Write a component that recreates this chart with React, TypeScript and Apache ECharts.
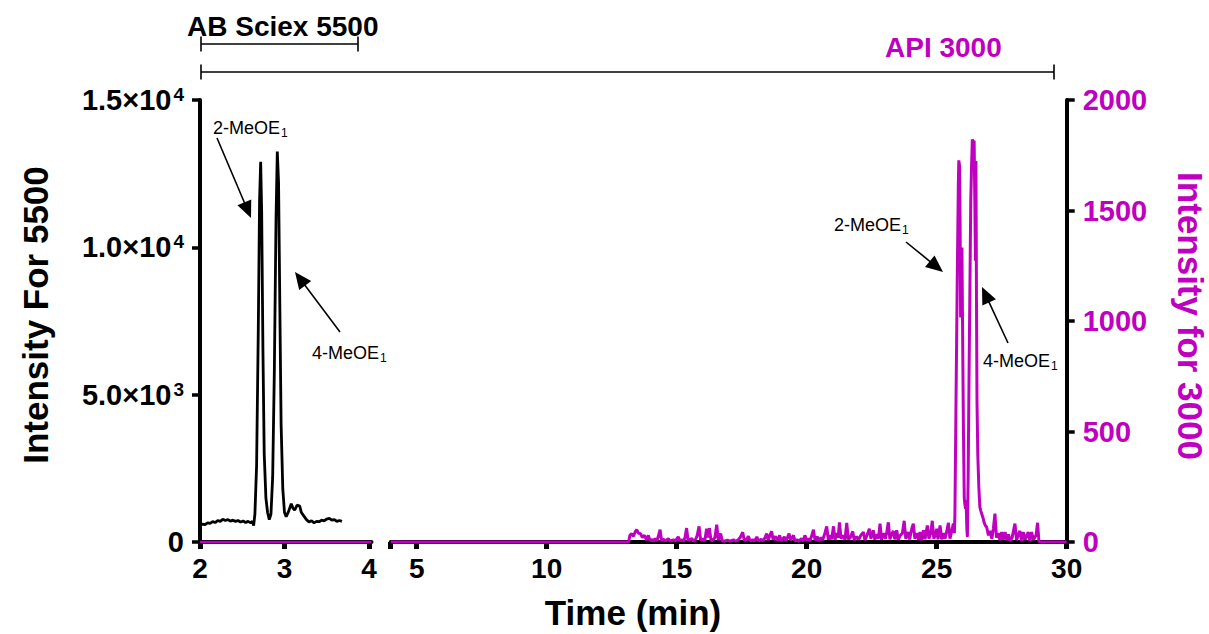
import React, { useEffect, useRef } from 'react';
import * as echarts from 'echarts';

const FONT = '"Liberation Sans", Arial, Helvetica, sans-serif';
const MAGENTA = '#C000C0';

// ---- tick values / labels ----
const X_LEFT_TICKS = [2, 3, 4];
const X_RIGHT_TICKS = [4, 5, 10, 15, 20, 25, 30];
const X_RIGHT_LABELS = [5, 10, 15, 20, 25, 30];
const Y_LEFT_TICKS = [0, 5000, 10000, 15000];
const Y_LEFT_MANTISSA = ['0', '5.0×10', '1.0×10', '1.5×10'];
const Y_LEFT_EXP = ['', '3', '4', '4'];

// ---- AB Sciex 5500 trace (time min, intensity) ----
const SCIEX_5500: [number, number][] = [
  [2.0, 560], [2.03, 610], [2.06, 590], [2.09, 650], [2.12, 630], [2.15, 690], [2.18, 660],
  [2.21, 730], [2.24, 700], [2.27, 770], [2.3, 730], [2.33, 760], [2.36, 710], [2.39, 740],
  [2.42, 700], [2.45, 730], [2.48, 680], [2.51, 710], [2.54, 660], [2.57, 700], [2.6, 650],
  [2.62, 700], [2.635, 560], [2.65, 950], [2.67, 2600], [2.69, 7200], [2.705, 11600],
  [2.718, 12900], [2.73, 11200], [2.745, 6500], [2.76, 3000], [2.78, 1500], [2.8, 1000],
  [2.82, 760], [2.84, 950], [2.86, 2200], [2.88, 5800], [2.9, 11000], [2.915, 13250],
  [2.93, 12200], [2.945, 8000], [2.96, 4000], [2.98, 1800], [3.0, 1000], [3.02, 860],
  [3.05, 1050], [3.08, 1300], [3.1, 1150], [3.12, 1080], [3.15, 1250], [3.18, 1220],
  [3.2, 1000], [3.23, 880], [3.26, 760], [3.29, 680], [3.32, 720], [3.35, 650], [3.38, 700],
  [3.41, 690], [3.44, 740], [3.47, 720], [3.5, 780], [3.53, 800], [3.56, 740], [3.59, 760],
  [3.62, 700], [3.65, 730], [3.68, 700],
];

// ---- API 3000 trace on the 2-4 min segment ----
const API3000_LEFT: [number, number][] = [[2, 0], [4.03, 0]];

// ---- API 3000 trace (time min, intensity) ----
const API3000: [number, number][] = [
  [4.0, 0], [13.15, 0], [13.2, 30], [13.27, 38], [13.33, 25], [13.4, 45], [13.46, 56],
  [13.53, 40], [13.61, 38], [13.68, 20], [13.76, 30], [13.84, 8], [13.91, 30], [13.98, 5],
  [14.05, 12], [14.1, 4], [14.17, 15], [14.24, 5], [14.3, 28], [14.36, 56], [14.42, 6],
  [14.5, 12], [14.57, 5], [14.68, 15], [14.75, 4], [14.87, 10], [14.95, 5], [15.06, 23],
  [15.12, 6], [15.2, 10], [15.26, 4], [15.32, 20], [15.38, 63], [15.44, 5], [15.5, 12],
  [15.58, 15], [15.64, 4], [15.72, 10], [15.79, 30], [15.86, 71], [15.92, 8], [16.0, 15],
  [16.08, 5], [16.15, 60], [16.2, 20], [16.26, 63], [16.32, 5], [16.4, 10], [16.47, 20],
  [16.54, 78], [16.6, 8], [16.69, 38], [16.75, 5], [16.85, 5], [16.95, 8], [17.05, 4],
  [17.18, 10], [17.25, 4], [17.35, 8], [17.44, 20], [17.54, 44], [17.6, 6], [17.68, 12],
  [17.76, 26], [17.82, 5], [17.92, 10], [18.0, 5], [18.08, 23], [18.15, 5], [18.25, 12],
  [18.32, 5], [18.4, 20], [18.46, 38], [18.52, 8], [18.6, 35], [18.65, 48], [18.71, 10],
  [18.8, 25], [18.88, 6], [18.96, 30], [19.02, 5], [19.14, 23], [19.2, 6], [19.26, 20],
  [19.32, 38], [19.38, 8], [19.49, 30], [19.55, 5], [19.62, 10], [19.7, 4], [19.8, 15],
  [19.87, 6], [19.93, 30], [20.0, 8], [20.06, 15], [20.12, 5], [20.2, 30], [20.26, 56],
  [20.32, 8], [20.4, 25], [20.46, 5], [20.55, 20], [20.61, 8], [20.7, 40], [20.77, 71],
  [20.83, 10], [20.9, 30], [20.96, 12], [21.03, 71], [21.09, 10], [21.16, 40], [21.21, 20],
  [21.26, 89], [21.32, 15], [21.4, 30], [21.47, 10], [21.54, 86], [21.6, 12], [21.68, 20],
  [21.77, 48], [21.83, 8], [21.92, 25], [22.0, 10], [22.08, 30], [22.18, 45], [22.24, 8],
  [22.32, 30], [22.41, 60], [22.47, 15], [22.56, 53], [22.62, 10], [22.7, 35], [22.76, 15],
  [22.82, 83], [22.88, 10], [22.96, 40], [23.03, 15], [23.08, 45], [23.14, 89], [23.2, 12],
  [23.27, 35], [23.33, 50], [23.39, 12], [23.46, 53], [23.52, 10], [23.6, 30], [23.68, 40],
  [23.75, 96], [23.81, 15], [23.9, 45], [23.96, 12], [24.04, 60], [24.1, 83], [24.16, 15],
  [24.24, 40], [24.3, 10], [24.36, 45], [24.42, 8], [24.49, 53], [24.55, 12], [24.64, 75],
  [24.7, 15], [24.77, 40], [24.83, 96], [24.89, 15], [24.96, 35], [25.0, 60], [25.05, 12],
  [25.13, 75], [25.19, 12], [25.26, 40], [25.32, 15], [25.39, 50], [25.45, 87], [25.51, 15],
  [25.58, 50], [25.64, 83], [25.68, 40], [25.7, 120], [25.74, 600], [25.79, 1182],
  [25.83, 1600], [25.85, 1727], [25.88, 1700], [25.9, 1450], [25.92, 1016], [25.95, 1300],
  [25.97, 1333], [26.0, 900], [26.03, 490], [26.06, 200], [26.08, 174], [26.11, 150],
  [26.13, 189], [26.16, 60], [26.18, 23], [26.21, 300], [26.24, 700], [26.26, 942],
  [26.29, 1300], [26.31, 1543], [26.34, 1700], [26.37, 1822], [26.4, 1810], [26.44, 1815],
  [26.47, 1500], [26.49, 1273], [26.51, 1724], [26.53, 1100], [26.55, 640], [26.58, 400],
  [26.62, 250], [26.66, 158], [26.7, 140], [26.73, 128], [26.78, 110], [26.82, 90],
  [26.87, 75], [26.92, 68], [26.99, 30], [27.05, 50], [27.12, 15], [27.18, 60], [27.24, 128],
  [27.3, 20], [27.37, 40], [27.43, 8], [27.5, 45], [27.56, 10], [27.63, 45], [27.7, 8],
  [27.76, 35], [27.82, 5], [27.9, 20], [28.01, 83], [28.07, 8], [28.14, 35], [28.2, 50],
  [28.26, 5], [28.33, 45], [28.4, 10], [28.52, 45], [28.58, 6], [28.65, 45], [28.72, 10],
  [28.82, 30], [28.88, 87], [28.93, 5], [28.96, 0], [30.0, 0],
];

function arrow(x1: number, y1: number, x2: number, y2: number) {
  const dx = x2 - x1;
  const dy = y2 - y1;
  const L = Math.hypot(dx, dy);
  const ux = dx / L;
  const uy = dy / L;
  const hl = 17;
  const hw = 7.5;
  const bx = x2 - ux * hl;
  const by = y2 - uy * hl;
  return [
    {
      type: 'line',
      shape: { x1, y1, x2: bx + ux * 2, y2: by + uy * 2 },
      style: { stroke: '#000', lineWidth: 1.6 },
      silent: true,
    },
    {
      type: 'polygon',
      shape: {
        points: [
          [x2, y2],
          [bx - uy * hw, by + ux * hw],
          [bx + uy * hw, by - ux * hw],
        ],
      },
      style: { fill: '#000' },
      silent: true,
    },
  ];
}

function bracket(x1: number, x2: number, y: number, half: number) {
  const st = { stroke: '#000', lineWidth: 1.6 };
  return [
    { type: 'line', shape: { x1, y1: y, x2, y2: y }, style: st, silent: true },
    { type: 'line', shape: { x1, y1: y - half, x2: x1, y2: y + half }, style: st, silent: true },
    { type: 'line', shape: { x1: x2, y1: y - half, x2, y2: y + half }, style: st, silent: true },
  ];
}

function label(x: number, y: number, main: string, sub: string) {
  return {
    type: 'text',
    x,
    y,
    silent: true,
    style: {
      text: `{m|${main}}{s|${sub}}`,
      align: 'left',
      verticalAlign: 'middle',
      rich: {
        m: { fontSize: 18, fontFamily: FONT, fill: '#000', color: '#000', lineHeight: 22 },
        s: {
          fontSize: 12,
          fontFamily: FONT,
          fill: '#000',
          color: '#000',
          lineHeight: 12,
          verticalAlign: 'bottom',
          padding: [0, 0, 0, 1],
        },
      },
    },
  };
}

export default function App() {
  const ref = useRef<HTMLDivElement>(null);

  useEffect(() => {
    if (!ref.current) return;
    const chart = echarts.init(ref.current, undefined, { renderer: 'svg' });

    const xAxisCommon = {
      type: 'value',
      axisLine: { show: true, lineStyle: { color: '#000', width: 4 } },
      axisTick: { show: true, inside: false, length: 7, lineStyle: { color: '#000', width: 5 } },
      axisLabel: {
        color: '#000',
        fontSize: 28,
        fontWeight: 'bold',
        fontFamily: FONT,
        margin: 12,
        formatter: (v: number) => String(v),
      },
      splitLine: { show: false },
    };

    const option: any = {
      animation: false,
      backgroundColor: '#fff',
      grid: [
        { left: 200, top: 100, width: 171.5, height: 442, containLabel: false },
        { left: 390.7, top: 100, width: 676, height: 442, containLabel: false },
      ],
      xAxis: [
        {
          ...xAxisCommon,
          gridIndex: 0,
          min: 2,
          max: 4.03,
          axisTick: { ...xAxisCommon.axisTick, customValues: X_LEFT_TICKS },
          axisLabel: { ...xAxisCommon.axisLabel, customValues: X_LEFT_TICKS },
        },
        {
          ...xAxisCommon,
          gridIndex: 1,
          min: 4,
          max: 30,
          axisTick: { ...xAxisCommon.axisTick, customValues: X_RIGHT_TICKS },
          axisLabel: { ...xAxisCommon.axisLabel, customValues: X_RIGHT_LABELS },
        },
      ],
      yAxis: [
        {
          type: 'value',
          gridIndex: 0,
          position: 'left',
          min: 0,
          max: 15000,
          interval: 5000,
          axisLine: { show: true, lineStyle: { color: '#000', width: 4 } },
          axisTick: { show: true, length: 8, lineStyle: { color: '#000', width: 3.5 } },
          splitLine: { show: false },
          axisLabel: {
            margin: 16,
            formatter: (v: number) => {
              const i = Y_LEFT_TICKS.indexOf(v);
              if (i < 0) return '';
              return Y_LEFT_EXP[i]
                ? `{m|${Y_LEFT_MANTISSA[i]}}{s|${Y_LEFT_EXP[i]}}`
                : `{m|${Y_LEFT_MANTISSA[i]}}`;
            },
            rich: {
              m: {
                fontSize: 29,
                fontWeight: 'bold',
                fontFamily: FONT,
                color: '#000',
                lineHeight: 30,
              },
              s: {
                fontSize: 19,
                fontWeight: 'bold',
                fontFamily: FONT,
                color: '#000',
                lineHeight: 19,
                verticalAlign: 'top',
                padding: [0, 0, 0, 2],
              },
            },
          },
        },
        {
          type: 'value',
          gridIndex: 1,
          position: 'right',
          min: 0,
          max: 2000,
          interval: 500,
          axisLine: { show: true, lineStyle: { color: '#000', width: 4 } },
          axisTick: { show: true, length: 8, lineStyle: { color: '#000', width: 3.5 } },
          splitLine: { show: false },
          axisLabel: {
            margin: 16,
            color: MAGENTA,
            fontSize: 29,
            fontWeight: 'bold',
            fontFamily: FONT,
            formatter: (v: number) => String(v),
          },
        },
      ],
      series: [
        {
          name: 'AB Sciex 5500',
          type: 'line',
          xAxisIndex: 0,
          yAxisIndex: 0,
          data: SCIEX_5500,
          showSymbol: false,
          symbol: 'none',
          lineStyle: { color: '#000', width: 2.8 },
          itemStyle: { color: '#000' },
          silent: true,
          z: 3,
        },
        {
          name: 'API 3000 (2-4 min)',
          type: 'line',
          xAxisIndex: 0,
          yAxisIndex: 0,
          data: API3000_LEFT,
          showSymbol: false,
          symbol: 'none',
          lineStyle: { color: MAGENTA, width: 2.5 },
          itemStyle: { color: MAGENTA },
          silent: true,
          z: 4,
        },
        {
          name: 'API 3000',
          type: 'line',
          xAxisIndex: 1,
          yAxisIndex: 1,
          data: API3000,
          showSymbol: false,
          symbol: 'none',
          lineStyle: { color: MAGENTA, width: 3 },
          itemStyle: { color: MAGENTA },
          silent: true,
          z: 4,
        },
      ],
      graphic: [
        ...bracket(201, 358, 44, 7.5),
        ...bracket(201, 1054, 72, 7.5),
        {
          type: 'text',
          x: 187,
          y: 26,
          silent: true,
          style: {
            text: 'AB Sciex 5500',
            fill: '#000',
            fontSize: 28,
            fontWeight: 'bold',
            fontFamily: FONT,
            align: 'left',
            verticalAlign: 'middle',
          },
        },
        {
          type: 'text',
          x: 885,
          y: 47,
          silent: true,
          style: {
            text: 'API 3000',
            fill: MAGENTA,
            fontSize: 28,
            fontWeight: 'bold',
            fontFamily: FONT,
            align: 'left',
            verticalAlign: 'middle',
          },
        },
        {
          type: 'text',
          x: 633,
          y: 612,
          silent: true,
          style: {
            text: 'Time (min)',
            fill: '#000',
            fontSize: 35,
            fontWeight: 'bold',
            fontFamily: FONT,
            align: 'center',
            verticalAlign: 'middle',
          },
        },
        {
          type: 'text',
          x: 35,
          y: 315,
          rotation: Math.PI / 2,
          silent: true,
          style: {
            text: 'Intensity For 5500',
            fill: '#000',
            fontSize: 35,
            fontWeight: 'bold',
            fontFamily: FONT,
            align: 'center',
            verticalAlign: 'middle',
          },
        },
        {
          type: 'text',
          x: 1190,
          y: 316,
          rotation: -Math.PI / 2,
          silent: true,
          style: {
            text: 'Intensity for 3000',
            fill: MAGENTA,
            fontSize: 35,
            fontWeight: 'bold',
            fontFamily: FONT,
            align: 'center',
            verticalAlign: 'middle',
          },
        },
        label(213, 128, '2-MeOE', '1'),
        label(312, 353, '4-MeOE', '1'),
        label(834, 225, '2-MeOE', '1'),
        label(983, 361, '4-MeOE', '1'),
        ...arrow(217, 138, 251, 218),
        ...arrow(340, 332, 295, 272),
        ...arrow(906, 242, 943, 272),
        ...arrow(1008, 343, 982, 287),
      ],
    };

    chart.setOption(option);
    return () => {
      chart.dispose();
    };
  }, []);

  return (
    <div
      ref={ref}
      style={{ position: 'fixed', left: 0, top: 0, width: 1209, height: 634, background: '#fff' }}
    />
  );
}
